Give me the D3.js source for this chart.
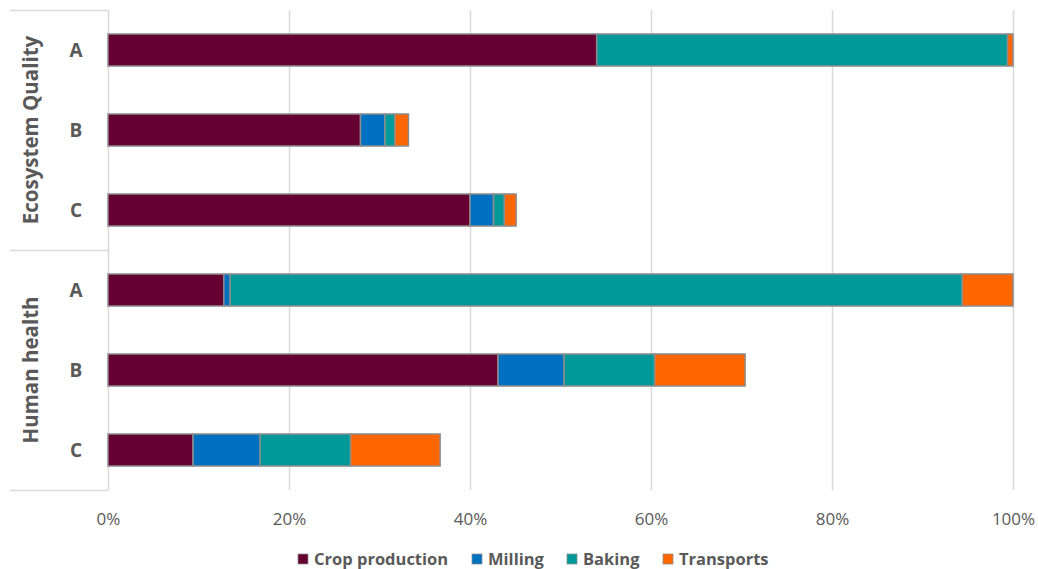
<!DOCTYPE html>
<html><head><meta charset="utf-8">
<script src="https://cdn.jsdelivr.net/npm/d3@7"></script>
<style>body{margin:0;background:#fff}svg{display:block}</style>
</head><body><div id="chart"></div>
<script>
const groups = ["Ecosystem Quality", "Human health"];
const categories = ["A", "B", "C"];
const series = ["Crop production", "Milling", "Baking", "Transports"];
const colors = ["#660033", "#0070C0", "#009999", "#FF6600"];
const cropProduction = [54.0, 27.9, 40.0, 12.8, 43.1, 9.4];
const milling        = [0.0, 2.7, 2.6, 0.7, 7.3, 7.4];
const baking         = [45.4, 1.1, 1.2, 80.9, 10.0, 10.0];
const transports     = [0.6, 1.5, 1.3, 5.6, 10.0, 9.9];
const xTicks = [0, 20, 40, 60, 80, 100];

(function () {
const W = 1038, H = 569;
const pL = 108, pR = 1013, pT = 10, pB = 490;
const svg = d3.select("#chart").append("svg").attr("width", W).attr("height", H);
const font = "'Open Sans', 'Liberation Sans', sans-serif";
const grey = "#595959";

const rows = [];
groups.forEach((g, gi) => categories.forEach((c, ci) => rows.push({key: gi + "-" + c, group: g, cat: c, idx: gi * 3 + ci})));
const vals = [cropProduction, milling, baking, transports];

const x = d3.scaleLinear().domain([0, 100]).range([pL, pR]);
const y = d3.scaleBand().domain(rows.map(r => r.key)).range([pT, pB]).paddingInner(0.6).paddingOuter(0.3);

// gridlines
svg.append("g").selectAll("line").data(xTicks).join("line")
  .attr("x1", d => Math.round(x(d)) + 0.5).attr("x2", d => Math.round(x(d)) + 0.5)
  .attr("y1", pT).attr("y2", pB)
  .attr("stroke", "#d9d9d9").attr("stroke-width", 1.5);

// x axis labels
const xAxis = d3.axisBottom(x).tickValues(xTicks).tickFormat(d => d + "%").tickSize(0).tickPadding(0);
const xg = svg.append("g").attr("transform", `translate(0,${pB + 29})`).call(xAxis);
xg.select(".domain").remove();
xg.selectAll("text").attr("font-family", font).attr("font-size", 17).attr("fill", grey).attr("dy", "0.35em");

// group separators
const sepY = [pT, (pT + pB) / 2, pB];
svg.append("g").selectAll("line").data(sepY).join("line")
  .attr("x1", 10).attr("x2", pL).attr("y1", d => Math.round(d) + 0.5).attr("y2", d => Math.round(d) + 0.5)
  .attr("stroke", "#d9d9d9").attr("stroke-width", 1.5);

// stacked bars
const stackData = rows.map(r => {
  const o = {key: r.key};
  series.forEach((s, si) => o[s] = vals[si][r.idx]);
  return o;
});
const stacked = d3.stack().keys(series)(stackData);
svg.append("g").selectAll("g").data(stacked).join("g")
  .attr("fill", (d, i) => colors[i])
  .selectAll("rect").data(d => d).join("rect")
  .attr("x", d => x(d[0])).attr("width", d => Math.max(0, x(d[1]) - x(d[0])))
  .attr("y", d => y(d.data.key)).attr("height", y.bandwidth())
  .attr("stroke", "#8c8c8c").attr("stroke-width", 1.5);

// category labels
svg.append("g").selectAll("text").data(rows).join("text")
  .attr("x", 76).attr("y", d => y(d.key) + y.bandwidth() / 2)
  .attr("dy", "0.35em").attr("text-anchor", "middle")
  .attr("font-family", font).attr("font-weight", "bold").attr("font-size", 19).attr("fill", grey)
  .text(d => d.cat);

// group labels
svg.append("g").selectAll("text").data(groups).join("text")
  .attr("transform", (d, i) => `translate(31,${pT + (pB - pT) / 4 * (2 * i + 1)}) rotate(-90)`)
  .attr("dy", "0.35em").attr("text-anchor", "middle")
  .attr("font-family", font).attr("font-weight", "bold").attr("font-size", 20.5).attr("fill", grey)
  .text(d => d);

// legend
const legendX = [298, 472, 567, 663];
const lg = svg.append("g").selectAll("g").data(series).join("g")
  .attr("transform", (d, i) => `translate(${legendX[i]},559)`);
lg.append("rect").attr("x", 0).attr("y", -5).attr("width", 10).attr("height", 10)
  .attr("fill", (d, i) => colors[i]).attr("stroke", "#8c8c8c").attr("stroke-width", 0.75);
lg.append("text").attr("x", 16).attr("y", 0).attr("dy", "0.35em")
  .attr("font-family", font).attr("font-weight", "bold").attr("font-size", 16.5).attr("fill", grey)
  .text(d => d);
})();
</script></body></html>
